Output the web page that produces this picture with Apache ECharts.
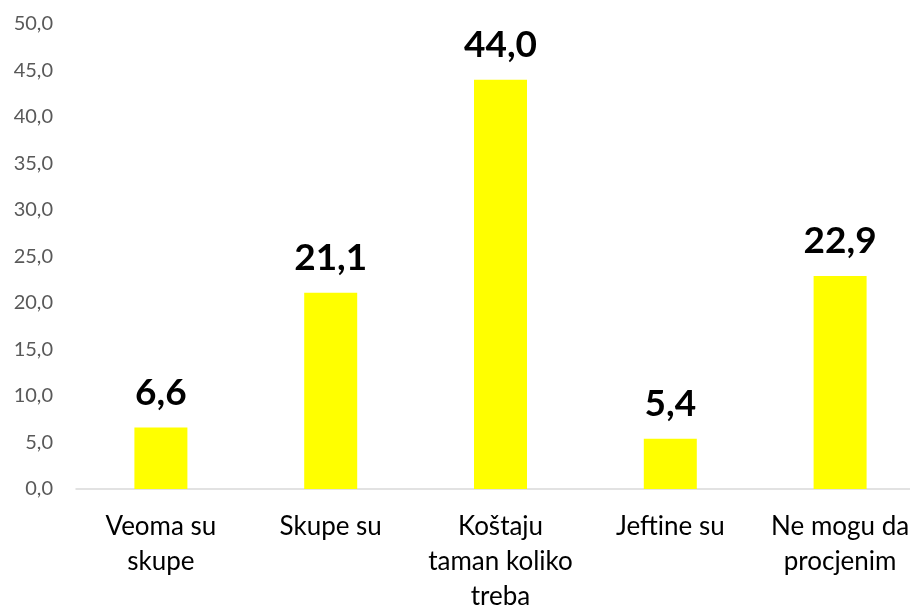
<!DOCTYPE html>
<html>
<head>
<meta charset="utf-8">
<script src="https://cdn.jsdelivr.net/npm/echarts@6/dist/echarts.min.js"></script>
<style>html,body{margin:0;padding:0;background:#fff}#c{width:910px;height:610px}</style>
</head>
<body>
<div id="c"></div>
<script>
const categories = ["Veoma su\nskupe", "Skupe su", "Koštaju\ntaman koliko\ntreba", "Jeftine su", "Ne mogu da\nprocjenim"];
const values = [6.6, 21.1, 44.0, 5.4, 22.9];
const yMin = 0, yMax = 50, yStep = 5;

const chart = echarts.init(document.getElementById('c'), null, {renderer: 'canvas'});
const fmt = v => v.toFixed(1).replace('.', ',');
chart.setOption({
  animation: false,
  grid: {left: 76, top: 24, right: -15, bottom: 121, containLabel: false, outerBoundsMode: 'none'},
  xAxis: {
    type: 'category',
    data: categories,
    axisLine: {lineStyle: {color: '#d9d9d9', width: 1.5}},
    axisTick: {show: false},
    axisLabel: {color: '#000', fontFamily: 'Lato', fontSize: 26, lineHeight: 35, margin: 20, interval: 0}
  },
  yAxis: {
    type: 'value', min: yMin, max: yMax, interval: yStep,
    axisLine: {show: false}, axisTick: {show: false}, splitLine: {show: false},
    axisLabel: {color: '#595959', fontFamily: 'Lato', fontSize: 20, margin: 23, formatter: fmt}
  },
  series: [{
    type: 'bar',
    data: values,
    barWidth: 53,
    itemStyle: {color: '#ffff00'},
    label: {show: true, position: 'top', distance: 16, color: '#000', fontFamily: 'Lato', fontWeight: 'bold', fontSize: 37, formatter: p => fmt(p.value)}
  }]
});
</script>
</body>
</html>
